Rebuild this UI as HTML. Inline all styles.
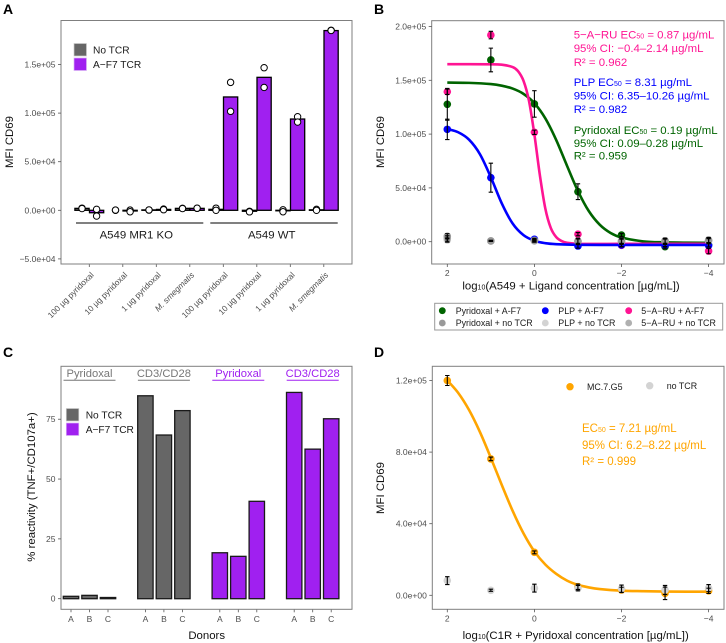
<!DOCTYPE html>
<html lang="en">
<head>
<meta charset="utf-8">
<title>MFI CD69 multi-panel figure</title>
<style>
html,body{margin:0;padding:0;background:#fff;}
svg{display:block;font-family:"Liberation Sans",sans-serif;filter:blur(0.3px);}
.tick{font-size:8.5px;fill:#4d4d4d;}
.title{font-size:11.4px;fill:#111;}
.letter{font-size:14px;font-weight:bold;fill:#000;}
.ann{font-size:11.4px;}
.leg{font-size:8.9px;fill:#1a1a1a;}
.leg2{font-size:10.2px;fill:#1a1a1a;}
</style>
</head>
<body>
<svg id="fig" xmlns="http://www.w3.org/2000/svg" width="726" height="643" viewBox="0 0 726 643">
  <g id="panelA"></g>
  <g id="panelB"></g>
  <g id="panelC"></g>
  <g id="panelD"></g>

  <text class="letter" x="3" y="14">A</text>
  <text class="letter" x="374" y="14">B</text>
  <text class="letter" x="3" y="357">C</text>
  <text class="letter" x="374" y="357">D</text>

  <!-- Panel A static -->
  <text class="title" transform="translate(13,142) rotate(-90)" text-anchor="middle">MFI CD69</text>
  <rect x="74" y="43.5" width="12.5" height="12.5" fill="#666666" stroke="#cccccc" stroke-width="0.7"/>
  <rect x="74" y="58" width="12.5" height="12.5" fill="#a020f0" stroke="#d9b3f5" stroke-width="0.7"/>
  <text class="leg2" x="93" y="53.5">No TCR</text>
  <text class="leg2" x="93" y="68">A−F7 TCR</text>
  <line x1="76" x2="203.3" y1="223" y2="223" stroke="#000" stroke-width="1"/>
  <line x1="210.3" x2="337.7" y1="223" y2="223" stroke="#000" stroke-width="1"/>
  <text class="leg2" style="font-size:11.4px" x="136.3" y="238.7" text-anchor="middle">A549 MR1 KO</text>
  <text class="leg2" style="font-size:11.4px" x="271.7" y="238.7" text-anchor="middle">A549 WT</text>

  <!-- Panel B static -->
  <text class="title" transform="translate(384,142) rotate(-90)" text-anchor="middle">MFI CD69</text>
  <text class="title" x="571" y="289.6" text-anchor="middle">log<tspan font-size="7">10</tspan>(A549 + Ligand concentration [µg/mL])</text>
  <g class="ann" fill="#ff1493">
    <text x="573.7" y="38.5">5−A−RU EC<tspan font-size="7">50</tspan> = 0.87 µg/mL</text>
    <text x="573.7" y="51.8">95% CI: −0.4–2.14 µg/mL</text>
    <text x="573.7" y="66.1">R² = 0.962</text>
  </g>
  <g class="ann" fill="#0000ff">
    <text x="573.7" y="86.1">PLP EC<tspan font-size="7">50</tspan> = 8.31 µg/mL</text>
    <text x="573.7" y="99.5">95% CI: 6.35–10.26 µg/mL</text>
    <text x="573.7" y="112.8">R² = 0.982</text>
  </g>
  <g class="ann" fill="#006400">
    <text x="573.7" y="133.8">Pyridoxal EC<tspan font-size="7">50</tspan> = 0.19 µg/mL</text>
    <text x="573.7" y="147.1">95% CI: 0.09–0.28 µg/mL</text>
    <text x="573.7" y="159.5">R² = 0.959</text>
  </g>
  <g>
    <rect x="434.7" y="303.3" width="288" height="26.7" fill="#fff" stroke="#999" stroke-width="1"/>
    <circle cx="442.3" cy="310.7" r="3.4" fill="#006400"/>
    <text class="leg" x="455.7" y="313.8">Pyridoxal + A-F7</text>
    <circle cx="442.3" cy="323" r="3.4" fill="#999999"/>
    <text class="leg" x="455.7" y="326.1">Pyridoxal + no TCR</text>
    <circle cx="545.3" cy="310.7" r="3.4" fill="#0000ff"/>
    <text class="leg" x="558.3" y="313.8">PLP + A-F7</text>
    <circle cx="545.3" cy="323" r="3.4" fill="#d3d3d3"/>
    <text class="leg" x="558.3" y="326.1">PLP + no TCR</text>
    <circle cx="628.7" cy="310.7" r="3.4" fill="#ff1493"/>
    <text class="leg" x="641.3" y="313.8">5−A−RU + A-F7</text>
    <circle cx="628.7" cy="323" r="3.4" fill="#b0b0b0"/>
    <text class="leg" x="641.3" y="326.1">5−A−RU + no TCR</text>
  </g>

  <!-- Panel C static -->
  <text class="title" transform="translate(35,487) rotate(-90)" text-anchor="middle">% reactivity (TNF+/CD107a+)</text>
  <text class="title" x="206.7" y="639" text-anchor="middle">Donors</text>
  <rect x="66.3" y="408.5" width="12.5" height="12.5" fill="#666666" stroke="#cccccc" stroke-width="0.7"/>
  <rect x="66.3" y="423" width="12.5" height="12.5" fill="#a020f0" stroke="#d9b3f5" stroke-width="0.7"/>
  <text class="leg2" x="85.7" y="418.3">No TCR</text>
  <text class="leg2" x="85.7" y="432.8">A−F7 TCR</text>

  <!-- Panel D static -->
  <text class="title" transform="translate(384,488) rotate(-90)" text-anchor="middle">MFI CD69</text>
  <text class="title" x="575.7" y="639.2" text-anchor="middle">log<tspan font-size="7">10</tspan>(C1R + Pyridoxal concentration [µg/mL])</text>
  <g class="ann" style="font-size:11.5px" fill="#ffa500">
    <text x="582" y="432.2">EC<tspan font-size="7">50</tspan> = 7.21 µg/mL</text>
    <text x="582" y="448.9">95% CI: 6.2–8.22 µg/mL</text>
    <text x="582" y="465">R² = 0.999</text>
  </g>
  <circle cx="570" cy="386.7" r="3.7" fill="#ffa500"/>
  <text class="leg" x="587" y="390.2">MC.7.G5</text>
  <circle cx="649.7" cy="385.7" r="3.7" fill="#d3d3d3"/>
  <text class="leg" x="666.7" y="389.2">no TCR</text>
</svg>

<script>
/* ---------- Panel A data (MFI in thousands) ---------- */
var aCategories = ["100 µg pyridoxal","10 µg pyridoxal","1 µg pyridoxal","M. smegmatis","100 µg pyridoxal","10 µg pyridoxal","1 µg pyridoxal","M. smegmatis"];
var aNoTcrBars = [2, 0, 0.4, 2, 1, -1, -0.5, 0.5];
var aF7Bars = [-2.5, -0.7, 0.9, 2, 116.6, 136.8, 93.9, 184.9];
var aNoTcrDots = [[2.2,1.8],[0,0.2],[0.2,0.4],[2,1.8],[2.2,0],[-1,-1.6],[0.5,-1.5],[1,0]];
var aF7Dots = [[1,-5.9],[0.2,-1.5],[1.2,0.6],[2,2.2],[131.6,101.8],[146.7,126.4],[96.3,90.8],[185.2,185]];
var aYTicks = [-50, 0, 50, 100, 150];
var aYLabels = ["−5.0e+04","0.0e+00","5.0e+04","1.0e+05","1.5e+05"];

/* ---------- Panel B data (MFI in thousands) ---------- */
var bDoses = [2, 1, 0, -1, -2, -3, -4];
var bPyridoxal = [127.7, 168.9, 128, 46.5, 6.2, -4.6, -2.8];
var bPyridoxalErr = [14.8, 11, 12.3, 7.3, 1.5, 2, 2];
var bPlp = [104.4, 59.5, 2.2, -4, -3, -3.5, -3.5];
var bPlpErr = [9.5, 13.5, 1, 2, 1.5, 1.5, 1.5];
var bAru = [139.4, 192, 101.7, 7, -3.4, -3, -8.7];
var bAruErr = [2.5, 3.5, 2, 1.5, 1.5, 1.5, 2.5];
var bPyridoxalNoTcr = [5, 0.7, 1, 0.3, 0.5, 0.8, 1.5];
var bPyridoxalNoTcrErr = [2.5, 0.5, 1.5, 3, 3, 2.5, 2.5];
var bPlpNoTcr = [1.5, 0.7, 0.6, 0.5, 0.3, 0.4, 0.8];
var bPlpNoTcrErr = [2, 0.5, 1, 2, 2, 2, 2];
var bAruNoTcr = [3, 0.7, 1.2, 0.4, 0.8, 0.2, 1];
var bAruNoTcrErr = [2.5, 0.5, 1, 2.5, 2.5, 2.5, 2.5];
var bGreenCurveX = [2, 1.5, 1, 0.75, 0.5, 0.25, 0, -0.25, -0.5, -0.75, -1, -1.25, -1.5, -1.75, -2, -2.5, -3, -3.5, -4];
var bGreenCurveY = [147.9, 147.6, 146.5, 145, 142.3, 137.4, 128.7, 114.7, 94.6, 70.5, 47.1, 28.4, 15.8, 8.1, 3.9, 0.3, -0.6, -0.9, -1];
var bBlueCurveX = [2, 1.75, 1.5, 1.25, 1, 0.75, 0.5, 0.25, 0, -0.25, -0.5, -1, -2, -3, -4];
var bBlueCurveY = [104.8, 101.7, 94.8, 81.3, 59.9, 35.7, 16.9, 6.1, 0.9, -1.4, -2.3, -2.9, -3, -3, -3];
var bPinkCurveX = [2, 1, 0.75, 0.5, 0.375, 0.25, 0.125, 0, -0.125, -0.25, -0.375, -0.5, -0.625, -0.75, -1, -2, -3, -4];
var bPinkCurveY = [165, 164.9, 164.5, 162.3, 158.5, 149.5, 131, 99.6, 62, 31, 12.9, 4.3, 0.6, -1, -1.9, -2, -2, -2];
var bYTicks = [0, 50, 100, 150, 200];
var bYLabels = ["0.0e+00","5.0e+04","1.0e+05","1.5e+05","2.0e+05"];
var doseTicks = [2, 0, -2, -4];
var doseLabels = ["2","0","−2","−4"];

/* ---------- Panel C data (% reactivity) ---------- */
var cGroups = ["Pyridoxal","CD3/CD28","Pyridoxal","CD3/CD28"];
var cDonors = ["A","B","C"];
var cValues = [[1, 1.4, 0.5],[84.8, 68.4, 78.6],[19.2, 17.7, 40.7],[86.2, 62.5, 75.2]];
var cYTicks = [0, 25, 50, 75];

/* ---------- Panel D data (MFI in thousands) ---------- */
var dDoses = [2, 1, 0, -1, -2, -3, -4];
var dMc7g5 = [120, 76.2, 24, 4.8, 3, 1.1, 2.5];
var dMc7g5Err = [2.8, 1, 0.8, 1.5, 1.5, 3.5, 1.5];
var dNoTcr = [8.2, 2.8, 4, 4, 3.7, 3, 4];
var dNoTcrErr = [2.2, 0.6, 2.2, 1.5, 2, 2.5, 2];
var dCurveX = [2, 1.75, 1.5, 1.25, 1, 0.75, 0.5, 0.25, 0, -0.25, -0.5, -0.75, -1, -1.25, -1.5, -2, -2.5, -3, -4];
var dCurveY = [120.1, 113.1, 103.5, 91.2, 76.8, 61.7, 47.2, 34.6, 24.5, 17.2, 12, 8.2, 5.8, 4.4, 3.5, 2.6, 2.3, 2.1, 2];
var dYTicks = [0, 40, 80, 120];
var dYLabels = ["0.0e+00","4.0e+04","8.0e+04","1.2e+05"];

/* ---------- Axis functions ---------- */
function xA(i){ return 89.3 + i * 33.5; }
function yA(v){ return 210.3 - v * 0.972; }
function xDose(v){ return 534.4 - v * 43.55; }
function yB(v){ return 241.7 - v * 1.076; }
function yD(v){ return 595.3 - v * 1.79; }
function xC(g, d){ return 71 + g * 74.4 + d * 18.5; }
function yC(v){ return 598.7 - v * 2.393; }

var NS = "http://www.w3.org/2000/svg";
function add(parent, tag, attrs, txt){
  var e = document.createElementNS(NS, tag);
  for (var k in attrs) e.setAttribute(k, attrs[k]);
  if (txt !== undefined) e.textContent = txt;
  parent.appendChild(e);
  return e;
}
function smoothPath(xs, ys){
  var pts = xs.map(function(x, i){ return [x, ys[i]]; });
  var d = "M" + pts[0][0].toFixed(2) + " " + pts[0][1].toFixed(2);
  for (var i = 0; i < pts.length - 1; i++){
    var p0 = pts[Math.max(i - 1, 0)], p1 = pts[i], p2 = pts[i + 1], p3 = pts[Math.min(i + 2, pts.length - 1)];
    var dx = p2[0] - p1[0];
    var m1 = (p2[1] - p0[1]) / ((p2[0] - p0[0]) || 1);
    var m2 = (p3[1] - p1[1]) / ((p3[0] - p1[0]) || 1);
    d += "C" + (p1[0] + dx / 3).toFixed(2) + " " + (p1[1] + m1 * dx / 3).toFixed(2) + " " +
         (p2[0] - dx / 3).toFixed(2) + " " + (p2[1] - m2 * dx / 3).toFixed(2) + " " +
         p2[0].toFixed(2) + " " + p2[1].toFixed(2);
  }
  return d;
}
function frame(parent, x, y, w, h){
  var f = add(parent, "rect", {x:x, y:y, width:w, height:h, fill:"none", stroke:"#7f7f7f", "stroke-width":1});
  
  
}
function yAxis(parent, left, ticks, labels, scale){
  ticks.forEach(function(t, i){
    var m = add(parent, "line", {x1:left - 3, x2:left, y1:scale(t), y2:scale(t), stroke:"#555", "stroke-width":0.8});
    
    
    var l = add(parent, "text", {"class":"tick", x:left - 5.5, y:scale(t) + 3, "text-anchor":"end"}, labels[i]);
    
    
  });
}
function doseAxis(parent, bottom){
  doseTicks.forEach(function(t, i){
    var m = add(parent, "line", {x1:xDose(t), x2:xDose(t), y1:bottom, y2:bottom + 3, stroke:"#555", "stroke-width":0.8});
    
    
    var l = add(parent, "text", {"class":"tick", x:xDose(t), y:bottom + 12, "text-anchor":"middle"}, doseLabels[i]);
    
    
  });
}
function drawPoints(parent, doses, vals, scale, color, r, name){
  doses.forEach(function(d, i){
    var c = add(parent, "circle", {cx:xDose(d), cy:scale(vals[i]), r:r, fill:color});
    
    
  });
}
function drawErrors(parent, doses, vals, errs, scale, name){
  doses.forEach(function(d, i){
    var x = xDose(d), hi = scale(vals[i] + errs[i]), lo = scale(vals[i] - errs[i]);
    var p = add(parent, "path", {d:"M" + (x - 2.2) + " " + hi + "H" + (x + 2.2) + "M" + x + " " + hi + "V" + lo + "M" + (x - 2.2) + " " + lo + "H" + (x + 2.2),
      fill:"none", stroke:"#000", "stroke-width":1.1});
    
    
  });
}
function drawCurve(parent, xs, ys, scale, color, name){
  var p = add(parent, "path", {d:smoothPath(xs.map(xDose), ys.map(scale)), fill:"none", stroke:color, "stroke-width":2.6});
  
  
}

/* ---------- Panel A ---------- */
(function(){
  var g = document.getElementById("panelA");
  var bw = 14.2, off = 7.3;
  aCategories.forEach(function(c, i){
    var x0 = xA(i) - off, x1 = xA(i) + off;
    var b0 = add(g, "rect", {x:x0 - bw / 2, width:bw, y:Math.min(yA(aNoTcrBars[i]), yA(0)), height:Math.abs(yA(aNoTcrBars[i]) - yA(0)), fill:"#666666", stroke:"#000", "stroke-width":1.3});
    
    
    var b1 = add(g, "rect", {x:x1 - bw / 2, width:bw, y:Math.min(yA(aF7Bars[i]), yA(0)), height:Math.abs(yA(aF7Bars[i]) - yA(0)), fill:"#a020f0", stroke:"#000", "stroke-width":1.3});
    
    
    aNoTcrDots[i].forEach(function(v){
      var d = add(g, "circle", {cx:x0, cy:yA(v), r:3.2, fill:"#fff", stroke:"#000", "stroke-width":1});
      
      
    });
    aF7Dots[i].forEach(function(v){
      var d = add(g, "circle", {cx:x1, cy:yA(v), r:3.2, fill:"#fff", stroke:"#000", "stroke-width":1});
      
      
    });
    var m = add(g, "line", {x1:xA(i), x2:xA(i), y1:264, y2:267, stroke:"#555", "stroke-width":0.8});
    
    
    var attrs = {"class":"tick", style:"font-size:8.3px", x:0, y:0, "text-anchor":"end", transform:"translate(" + (xA(i) + 5) + ",275.5) rotate(-45)"};
    if (c.indexOf("smegmatis") >= 0) attrs["font-style"] = "italic";
    var l = add(g, "text", attrs, c);
    
    
  });
  frame(g, 61, 20.5, 291, 243.5);
  yAxis(g, 61, aYTicks, aYLabels, yA);
})();

/* ---------- Panel B ---------- */
(function(){
  var g = document.getElementById("panelB");
  drawPoints(g, bDoses, bAru, yB, "#ff1493", 3.8, "point-5-a-ru");
  drawPoints(g, bDoses, bPyridoxal, yB, "#006400", 3.8, "point-pyridoxal");
  drawPoints(g, bDoses, bPlp, yB, "#0000ff", 3.8, "point-plp");
  drawCurve(g, bGreenCurveX, bGreenCurveY, yB, "#006400", "curve-pyridoxal");
  drawCurve(g, bPinkCurveX, bPinkCurveY, yB, "#ff1493", "curve-5-a-ru");
  drawCurve(g, bBlueCurveX, bBlueCurveY, yB, "#0000ff", "curve-plp");
  drawPoints(g, bDoses, bPlpNoTcr, yB, "#d3d3d3", 3.8, "point-plp-no-tcr");
  drawPoints(g, bDoses, bAruNoTcr, yB, "#b0b0b0", 3.8, "point-5-a-ru-no-tcr");
  drawPoints(g, bDoses, bPyridoxalNoTcr, yB, "#999999", 3.8, "point-pyridoxal-no-tcr");
  drawErrors(g, bDoses, bAru, bAruErr, yB, "error-5-a-ru");
  drawErrors(g, bDoses, bPyridoxal, bPyridoxalErr, yB, "error-pyridoxal");
  drawErrors(g, bDoses, bPlp, bPlpErr, yB, "error-plp");
  drawErrors(g, bDoses, bPyridoxalNoTcr, bPyridoxalNoTcrErr, yB, "error-pyridoxal-no-tcr");
  drawErrors(g, bDoses, bPlpNoTcr, bPlpNoTcrErr, yB, "error-plp-no-tcr");
  drawErrors(g, bDoses, bAruNoTcr, bAruNoTcrErr, yB, "error-5-a-ru-no-tcr");
  frame(g, 431.7, 20.7, 292.3, 243.3);
  yAxis(g, 431.7, bYTicks, bYLabels, yB);
  doseAxis(g, 264);
})();

/* ---------- Panel C ---------- */
(function(){
  var g = document.getElementById("panelC");
  var bw = 15.4;
  cGroups.forEach(function(name, gi){
    var color = gi < 2 ? "#666666" : "#a020f0";
    var head = gi < 2 ? "#777777" : "#a020f0";
    var mid = xC(gi, 1);
    var h = add(g, "text", {x:mid, y:377.2, "text-anchor":"middle", fill:head, "font-size":"11.2px"}, name);
    
    
    var u = add(g, "line", {x1:mid - 26, x2:mid + 26, y1:380.3, y2:380.3, stroke:head, "stroke-width":1});
    
    
    cDonors.forEach(function(d, di){
      var x = xC(gi, di), v = cValues[gi][di];
      var b = add(g, "rect", {x:x - bw / 2, width:bw, y:yC(v), height:yC(0) - yC(v), fill:color, stroke:"#1a1a1a", "stroke-width":1.3});
      
      
      var m = add(g, "line", {x1:x, x2:x, y1:609.3, y2:612.3, stroke:"#555", "stroke-width":0.8});
      
      
      var l = add(g, "text", {"class":"tick", x:x, y:621.8, "text-anchor":"middle"}, d);
      
      
    });
  });
  frame(g, 61, 366.3, 291, 243);
  yAxis(g, 61, cYTicks, cYTicks.map(String), yC);
})();

/* ---------- Panel D ---------- */
(function(){
  var g = document.getElementById("panelD");
  drawPoints(g, dDoses, dMc7g5, yD, "#ffa500", 3.8, "point-mc7g5");
  drawCurve(g, dCurveX, dCurveY, yD, "#ffa500", "curve-mc7g5");
  drawPoints(g, dDoses, dNoTcr, yD, "#d3d3d3", 3.8, "point-no-tcr");
  drawErrors(g, dDoses, dMc7g5, dMc7g5Err, yD, "error-mc7g5");
  drawErrors(g, dDoses, dNoTcr, dNoTcrErr, yD, "error-no-tcr");
  frame(g, 432.3, 366.3, 291.7, 243);
  yAxis(g, 432.3, dYTicks, dYLabels, yD);
  doseAxis(g, 609.3);
})();
</script>
</body>
</html>
